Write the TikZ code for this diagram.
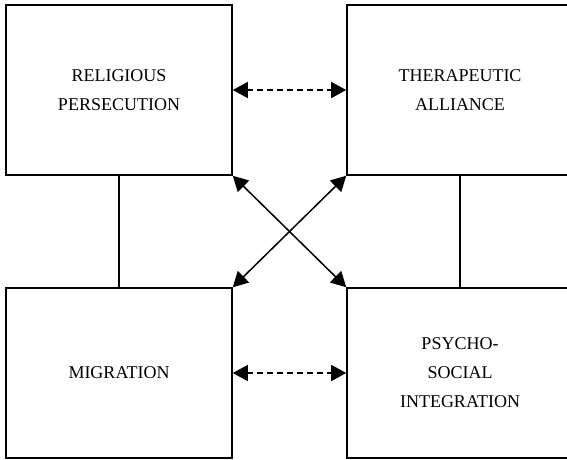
\documentclass[tikz,border=0pt]{standalone}
\usepackage{fontspec}
\setmainfont{Liberation Serif}
\usetikzlibrary{arrows.meta}
\begin{document}
\begin{tikzpicture}[x=1pt,y=-1pt,
  box/.style={draw, line width=1.6pt, minimum width=226pt, minimum height=170pt, inner sep=0pt,
    align=center, font=\fontsize{18}{29}\selectfont},
  link/.style={line width=1.5pt},
  dbl/.style={line width=1.5pt, {Triangle[length=15pt,width=16pt]}-{Triangle[length=15pt,width=16pt]}},
  dsh/.style={dbl, dash pattern=on 6pt off 4pt}]
\clip (0,0) rectangle (567,459);
\node[box] (tl) at (119,90) {RELIGIOUS\\PERSECUTION};
\node[box] (tr) at (460,90) {THERAPEUTIC\\ALLIANCE};
\node[box] (bl) at (119,373) {MIGRATION};
\node[box] (br) at (460,373) {PSYCHO-\\SOCIAL\\INTEGRATION};
\draw[link] (tl.south) -- (bl.north);
\draw[link] (tr.south) -- (br.north);
\draw[dsh] (tl.east) -- (tr.west);
\draw[dsh] (bl.east) -- (br.west);
\draw[dbl] (tl.south east) -- (br.north west);
\draw[dbl] (tr.south west) -- (bl.north east);
\end{tikzpicture}
\end{document}
